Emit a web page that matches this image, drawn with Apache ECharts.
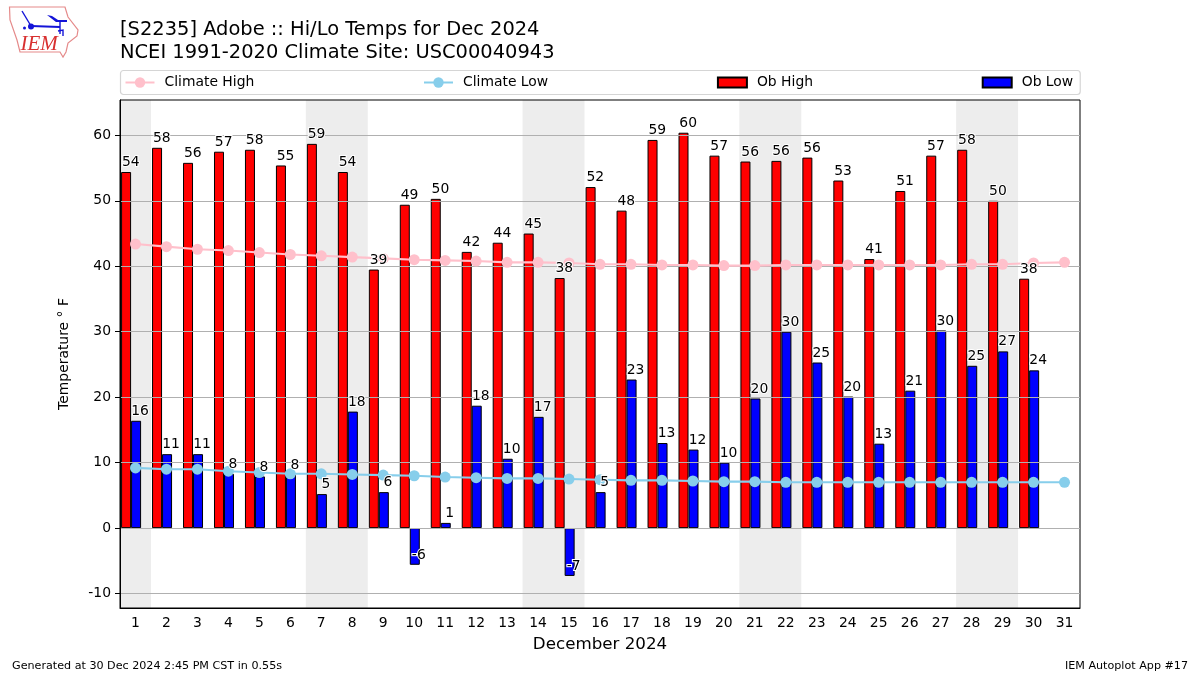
<!DOCTYPE html>
<html>
<head>
<meta charset="utf-8">
<style>html,body{margin:0;padding:0;background:#fff}#chart{width:1200px;height:675px}</style>
<script src="https://cdn.jsdelivr.net/npm/echarts@6/dist/echarts.min.js"></script>
</head>
<body>
<div id="chart"></div>
<script>
const days = ['1','2','3','4','5','6','7','8','9','10','11','12','13','14','15','16','17','18','19','20','21','22','23','24','25','26','27','28','29','30','31'];
const obHigh = [54.4,58.1,55.8,57.5,57.8,55.4,58.7,54.4,39.5,49.4,50.3,42.2,43.6,45.0,38.2,52.1,48.5,59.3,60.4,56.9,56.0,56.1,56.6,53.1,41.1,51.5,56.9,57.8,50.0,38.1,null];
const obLow = [16.4,11.3,11.3,8.3,7.9,8.2,5.2,17.8,5.5,-5.6,0.8,18.7,10.6,17.0,-7.3,5.5,22.7,13.0,12.0,10.0,19.8,30.0,25.3,20.1,12.9,21.0,30.2,24.8,27.0,24.1,null];
const obHighLabels = [54,58,56,57,58,55,59,54,39,49,50,42,44,45,38,52,48,59,60,57,56,56,56,53,41,51,57,58,50,38,null];
const obLowLabels = [16,11,11,8,8,8,5,18,6,-6,1,18,10,17,-7,5,23,13,12,10,20,30,25,20,13,21,30,25,27,24,null];
const climateHigh = [43.4,43.0,42.6,42.4,42.1,41.8,41.6,41.4,41.2,41.0,40.9,40.8,40.6,40.6,40.5,40.3,40.3,40.2,40.2,40.1,40.1,40.2,40.2,40.2,40.2,40.2,40.2,40.3,40.3,40.5,40.6];
const climateLow = [9.2,9.0,9.0,8.7,8.5,8.3,8.3,8.2,8.1,8.0,7.8,7.7,7.6,7.6,7.5,7.4,7.3,7.3,7.2,7.1,7.1,7.0,7.0,7.0,7.0,7.0,7.0,7.0,7.0,7.0,7.0];
const weekendRanges = [[0,0],[6,7],[13,14],[20,21],[27,28]];
const yTicks = [-10,0,10,20,30,40,50,60];
const yMin = -12.2, yMax = 65.4;

const FONT = '"DejaVu Sans"';
const chart = echarts.init(document.getElementById('chart'), null, {renderer:'canvas'});

function labelSeries(name, values, labels, dx) {
  return {
    name, type:'scatter', symbolSize:0, z:6, silent:true, itemStyle:{opacity:1},
    data: values.map((v,i)=>[i,v,labels[i]]).filter(d=>d[1]!==null),
    label:{show:true, position:'top', distance:2.5, offset:[dx,0], color:'#000',
      fontFamily:FONT, fontSize:13.9, textBorderColor:'#fff', textBorderWidth:2,
      formatter:p=>String(p.data[2])}
  };
}

chart.setOption({
  animation:false,
  backgroundColor:'#fff',
  textStyle:{fontFamily:FONT},
  title:[
    {text:'[S2235] Adobe :: Hi/Lo Temps for Dec 2024\nNCEI 1991-2020 Climate Site: USC00040943',
     left:120, top:18, padding:0,
     textStyle:{fontFamily:FONT, fontSize:19.45, fontWeight:'normal', color:'#000', lineHeight:23}},
    {text:'Generated at 30 Dec 2024 2:45 PM CST in 0.55s', left:12, top:661, padding:0,
     textStyle:{fontFamily:FONT, fontSize:11.15, fontWeight:'normal', color:'#000'}},
    {text:'IEM Autoplot App #17', right:12, top:661, padding:0,
     textStyle:{fontFamily:FONT, fontSize:11.15, fontWeight:'normal', color:'#000'}}
  ],
  legend:{
    data:[
      {name:'Climate High'},
      {name:'Climate Low'},
      {name:'Ob High', icon:'path://M0,0H29V10H0Z'},
      {name:'Ob Low', icon:'path://M0,0H29V10H0Z'}
    ],
    left:120.5, top:70.5, itemGap:168.7, itemWidth:29, itemHeight:13,
    padding:[5,7,5,4], borderColor:'#d5d5d5', borderWidth:1.2, borderRadius:3,
    backgroundColor:'#fff',
    textStyle:{fontFamily:FONT, fontSize:13.9, color:'#000', padding:[0,0,0,5]}
  },
  grid:{left:120, right:120, top:100, bottom:67, show:true, borderColor:'#000', borderWidth:1, backgroundColor:'transparent'},
  xAxis:{
    type:'category', data:days, boundaryGap:true,
    name:'December 2024', nameLocation:'middle', nameGap:28.5,
    nameTextStyle:{fontFamily:FONT, fontSize:16.7, color:'#000'},
    axisLine:{onZero:false, lineStyle:{color:'#000', width:1}},
    axisTick:{alignWithLabel:true, length:5, lineStyle:{color:'#000', width:1}},
    axisLabel:{interval:0, color:'#000', fontFamily:FONT, fontSize:13.9, margin:8},
    splitLine:{show:false}
  },
  yAxis:{
    type:'value', min:yMin, max:yMax, z:3,
    name:'Temperature ° F', nameLocation:'middle', nameGap:49, nameRotate:90,
    nameTextStyle:{fontFamily:FONT, fontSize:13.9, color:'#000'},
    axisLine:{show:true, lineStyle:{color:'#000', width:1}},
    axisTick:{show:true, length:5, lineStyle:{color:'#000', width:1}, customValues:yTicks},
    axisLabel:{color:'#000', fontFamily:FONT, fontSize:13.9, margin:9, customValues:yTicks},
    splitLine:{show:true, lineStyle:{color:'#b0b0b0', width:1}}
  },
  series:[
    {name:'Weekend', type:'custom', z:-1, silent:true, clip:true,
     data:weekendRanges,
     encode:{x:[0,1]},
     renderItem:(params,api)=>{
       const a=api.coord([api.value(0),yMax]);
       const b=api.coord([api.value(1),yMin]);
       const w=api.size([1,0])[0];
       return {type:'rect', shape:{x:a[0]-w/2,y:a[1],width:b[0]-a[0]+w,height:b[1]-a[1]}, style:{fill:'#ededed'}};
     }},
    {name:'Ob High', type:'bar', data:obHigh, barWidth:10, barGap:0, z:2, silent:true,
     itemStyle:{color:'#ff0000', borderColor:'#000', borderWidth:1}},
    {name:'Ob Low', type:'bar', data:obLow, barWidth:10, barGap:0, z:2, silent:true,
     itemStyle:{color:'#0000ff', borderColor:'#000', borderWidth:1}},
    {name:'spacer', type:'bar', data:[], barWidth:8.8, barGap:0, silent:true},
    {name:'Climate High', type:'line', data:climateHigh, z:4, symbol:'circle', symbolSize:11, showSymbol:true, silent:true,
     lineStyle:{color:'#ffc0cb', width:2.1}, itemStyle:{color:'#ffc0cb'}},
    {name:'Climate Low', type:'line', data:climateLow, z:4, symbol:'circle', symbolSize:11, showSymbol:true, silent:true,
     lineStyle:{color:'#87ceeb', width:2.1}, itemStyle:{color:'#87ceeb'}},
    labelSeries('High labels', obHigh, obHighLabels, -4.7),
    labelSeries('Low labels', obLow, obLowLabels, 4.6)
  ],
  graphic:[
    {type:'polygon', silent:true, shape:{points:[[9.5,7],[65,7],[68,17],[78,30],[77,36],[68,43],[66,52],[63,57],[60,52],[20,52],[17,40],[10,20]]},
     style:{fill:'#fff', stroke:'#e58a8a', lineWidth:1.2}},
    {type:'polyline', silent:true, shape:{points:[[22,11],[25,16],[31,26]]}, style:{fill:'none', stroke:'#1414d8', lineWidth:1.4}},
    {type:'polyline', silent:true, shape:{points:[[31,26],[60,27]]}, style:{fill:'none', stroke:'#1414d8', lineWidth:1.8}},
    {type:'polygon', silent:true, shape:{points:[[47,15],[52,16],[58,20],[67,20],[67,22],[56,22]]}, style:{fill:'#1414d8'}},
    {type:'polyline', silent:true, shape:{points:[[60,21],[60,34]]}, style:{fill:'none', stroke:'#1414d8', lineWidth:1.4}},
    {type:'polyline', silent:true, shape:{points:[[58,31],[63,30],[63,36]]}, style:{fill:'none', stroke:'#1414d8', lineWidth:1.4}},
    {type:'circle', silent:true, shape:{cx:31,cy:26.5,r:3}, style:{fill:'#1414d8'}},
    {type:'circle', silent:true, shape:{cx:24.5,cy:28,r:1.5}, style:{fill:'#1414d8'}},
    {type:'text', silent:true, left:20.5, top:34, style:{text:'IEM', fill:'#d83030', fontFamily:'"Liberation Serif"', fontStyle:'italic', fontSize:21}}
  ]
});
</script>
</body>
</html>
